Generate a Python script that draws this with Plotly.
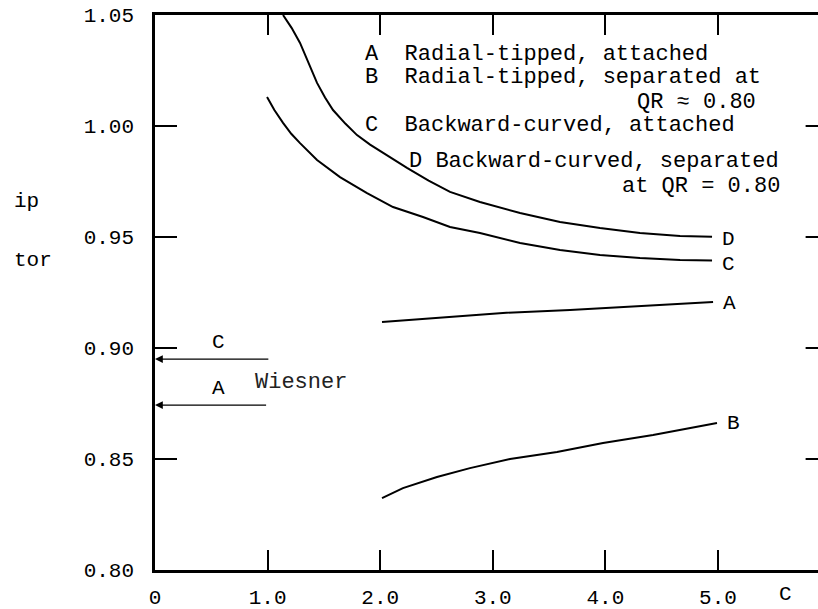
import plotly.graph_objects as go

# ---- data ----
d_x = [1.137, 1.213, 1.288, 1.364, 1.439, 1.51, 1.581, 1.69, 1.794, 1.91, 2.025, 2.238, 2.43, 2.62, 2.886, 3.242, 3.597, 3.952, 4.307, 4.663, 4.947]
d_y = [1.050, 1.0442, 1.0374, 1.0282, 1.0194, 1.0128, 1.0072, 1.0011, 0.9959, 0.9916, 0.9878, 0.9811, 0.9754, 0.9703, 0.9658, 0.9608, 0.9568, 0.9541, 0.9518, 0.9505, 0.9501]

c_x = [0.995, 1.06, 1.137, 1.21, 1.288, 1.439, 1.643, 1.883, 2.114, 2.380, 2.62, 2.886, 3.242, 3.597, 3.952, 4.307, 4.663, 4.947]
c_y = [1.0131, 1.0072, 1.0014, 0.9965, 0.9923, 0.9847, 0.9770, 0.9698, 0.9635, 0.9590, 0.9545, 0.9518, 0.9473, 0.9441, 0.9419, 0.9405, 0.9396, 0.9394]

a_x = [2.016, 2.504, 3.09, 3.686, 4.28, 4.956]
a_y = [0.9117, 0.9135, 0.9158, 0.9171, 0.9189, 0.9207]

b_x = [2.016, 2.202, 2.504, 2.797, 3.153, 3.57, 3.979, 4.423, 4.991]
b_y = [0.8324, 0.8369, 0.8419, 0.8459, 0.8500, 0.8532, 0.8572, 0.8608, 0.8662]

# Wiesner reference levels (arrows to the axis)
wiesner_labels = ["C", "A"]
wiesner_y = [0.895, 0.8743]
wiesner_x_start = [1.02, 1.0]

x_ticks = [0, 1, 2, 3, 4, 5]
x_ticktext = ["0", "1.0", "2.0", "3.0", "4.0", "5.0"]
y_ticks = [0.80, 0.85, 0.90, 0.95, 1.00, 1.05]
y_ticktext = ["0.80", "0.85", "0.90", "0.95", "1.00", "1.05"]

legend_lines = [
    "A  Radial-tipped, attached",
    "B  Radial-tipped, separated at",
    "QR \u2248 0.80",
    "C  Backward-curved, attached",
    "D Backward-curved, separated",
    "at QR = 0.80",
]

X_MAX = 5.888
Y_RANGE = [0.80, 1.05]
FONT = "Courier New, Liberation Mono, monospace"
FS = 22

fig = go.Figure()
for xs, ys in [(d_x, d_y), (c_x, c_y), (a_x, a_y), (b_x, b_y)]:
    fig.add_trace(go.Scatter(x=xs, y=ys, mode="lines", line=dict(color="black", width=2),
                             showlegend=False, hoverinfo="skip"))

# curve end labels
for lab, xs, ys, dy in [("D", d_x, d_y, -0.0012), ("C", c_x, c_y, -0.0017), ("A", a_x, a_y, -0.0008), ("B", b_x, b_y, 0.0)]:
    fig.add_annotation(x=xs[-1] + 0.07, y=ys[-1] + dy, text=lab, showarrow=False, xanchor="left",
                       font=dict(family=FONT, size=FS - 1, color="black"))

# Wiesner arrows
for lab, yv, xs in zip(wiesner_labels, wiesner_y, wiesner_x_start):
    fig.add_annotation(x=0.0, y=yv, ax=xs, ay=yv, axref="x", ayref="y", xref="x", yref="y",
                       text="", showarrow=True, arrowhead=2, arrowsize=1.2, arrowwidth=1.3, arrowcolor="black")
    fig.add_annotation(x=0.56, y=yv + 0.0073, text=lab, showarrow=False,
                       font=dict(family=FONT, size=FS - 1, color="black"))
fig.add_annotation(x=0.87, y=0.8845, text="Wiesner", showarrow=False, xanchor="left",
                   font=dict(family=FONT, size=FS, color="#222"))

# legend text block
leg_pos = [(1.847, 1.0324), (1.847, 1.0218), (4.263, 1.0104), (1.847, 1.0003), (2.238, 0.9838), (4.13, 0.9728)]
for t, (xx, yy) in zip(legend_lines, leg_pos):
    fig.add_annotation(x=xx, y=yy, text=t, showarrow=False, xanchor="left",
                       font=dict(family=FONT, size=FS, color="black"))

# x-axis trailing label
fig.add_annotation(x=5.6, y=0, yref="paper", yanchor="bottom", yshift=-38, text="C", showarrow=False,
                   font=dict(family=FONT, size=FS - 1, color="black"))

# cropped y-axis title remnants
fig.add_annotation(x=-0.2157, xref="paper", y=0.9658, text="ip", showarrow=False, xanchor="left",
                   font=dict(family=FONT, size=FS - 1, color="black"))
fig.add_annotation(x=-0.2157, xref="paper", y=0.9396, text="tor", showarrow=False, xanchor="left",
                   font=dict(family=FONT, size=FS - 1, color="black"))

# right-side ticks of the (cropped) right axis
for yv in y_ticks[1:-1]:
    fig.add_shape(type="line", x0=X_MAX - 0.11, x1=X_MAX, y0=yv, y1=yv, line=dict(color="black", width=2))

fig.update_layout(
    width=818, height=609, margin=dict(l=155, r=0, t=15, b=39),
    plot_bgcolor="white", paper_bgcolor="white",
    font=dict(family=FONT, size=FS - 1, color="black"),
)
fig.update_xaxes(range=[0, X_MAX], tickvals=x_ticks, ticktext=x_ticktext, ticks="inside", ticklen=20,
                 tickwidth=2, tickcolor="black", showline=True, linecolor="black", linewidth=2.5,
                 mirror="ticks", showgrid=False, zeroline=False, ticklabelstandoff=6, automargin=False)
fig.update_yaxes(range=Y_RANGE, tickvals=y_ticks, ticktext=y_ticktext, ticks="inside", ticklen=22,
                 tickwidth=2, tickcolor="black", showline=True, linecolor="black", linewidth=2.5,
                 mirror=False, showgrid=False, zeroline=False, ticklabelstandoff=14, automargin=False)

fig.write_html("out.html")
